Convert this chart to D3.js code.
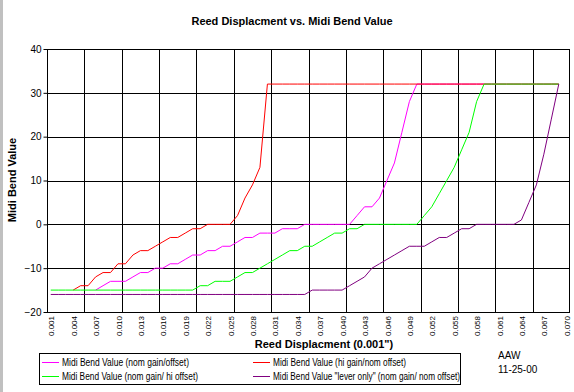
<!DOCTYPE html>
<html><head><meta charset="utf-8">
<script src="https://cdn.jsdelivr.net/npm/d3@7"></script>
<style>
body{margin:0;background:#fff}
svg{display:block}
text{font-family:"Liberation Sans",Arial,sans-serif;fill:#000}
</style>
</head><body>
<svg id="chart" width="574" height="392"></svg>
<script>
const categories = ["0.001","0.002","0.003","0.004","0.005","0.006","0.007","0.008","0.009","0.010",
"0.011","0.012","0.013","0.014","0.015","0.016","0.017","0.018","0.019","0.020",
"0.021","0.022","0.023","0.024","0.025","0.026","0.027","0.028","0.029","0.030",
"0.031","0.032","0.033","0.034","0.035","0.036","0.037","0.038","0.039","0.040",
"0.041","0.042","0.043","0.044","0.045","0.046","0.047","0.048","0.049","0.050",
"0.051","0.052","0.053","0.054","0.055","0.056","0.057","0.058","0.059","0.060",
"0.061","0.062","0.063","0.064","0.065","0.066","0.067","0.068","0.069","0.070"];
const xTickLabels = ["0.001","0.004","0.007","0.010","0.013","0.016","0.019","0.022","0.025","0.028","0.031","0.034","0.037","0.040","0.043","0.046","0.049","0.052","0.055","0.058","0.061","0.064","0.067","0.070"];
const yTickValues = [-20,-10,0,10,20,30,40];
const seriesNames = ["Midi Bend Value (nom gain/offset)","Midi Bend Value (hi gain/nom offset)","Midi Bend Value (nom gain/ hi offset)","Midi Bend Value \"lever only\" (nom gain/ nom offset)"];
const seriesColors = ["#ff00ff","#ff0000","#00ff00","#800080"];

const nomGainOffset = [null,null,null,null,null,null,-15,-14,-13,-13,
-13,-12,-11,-11,-10,-10,-9,-9,-8,-7,
-7,-6,-6,-5,-5,-4,-3,-3,-2,-2,
-2,-1,-1,-1,0,0,0,0,0,0,
0,2,4,4,6,10,14,21,28,32,
32,32,32,32,32,32,32,32,32,32,
32,32,32,32,32,32,32,32,32,null];
const hiGainNomOffset = [null,null,null,-15,-14,-14,-12,-11,-11,-9,
-9,-7,-6,-6,-5,-4,-3,-3,-2,-1,
-1,0,0,0,0,2,6,9,13,32,
32,32,32,32,32,32,32,32,32,32,
32,32,32,32,32,32,32,32,32,32,
32,32,32,32,32,32,32,32,32,32,
32,32,32,32,32,32,32,32,32,null];
const nomGainHiOffset = [-15,-15,-15,-15,-15,-15,-15,-15,-15,-15,
-15,-15,-15,-15,-15,-15,-15,-15,-15,-15,
-14,-14,-13,-13,-13,-12,-11,-11,-10,-9,
-8,-7,-6,-6,-5,-5,-4,-3,-2,-2,
-1,-1,0,0,0,0,0,0,0,0,
2,4,7,10,13,17,21,28,32,32,
32,32,32,32,32,32,32,32,32,null];
const leverOnly = [-16,-16,-16,-16,-16,-16,-16,-16,-16,-16,
-16,-16,-16,-16,-16,-16,-16,-16,-16,-16,
-16,-16,-16,-16,-16,-16,-16,-16,-16,-16,
-16,-16,-16,-16,-16,-15,-15,-15,-15,-15,
-14,-13,-12,-10,-9,-8,-7,-6,-5,-5,
-5,-4,-3,-3,-2,-1,-1,0,0,0,
0,0,0,1,5,9,16,24,32,null];
const seriesData = [nomGainOffset, hiGainNomOffset, nomGainHiOffset, leverOnly];

const svg = d3.select("#chart");
const L = 47, R = 570, T = 49, B = 312;

svg.append("rect").attr("width",574).attr("height",392).attr("fill","#fff");
svg.append("rect").attr("x",0).attr("y",0).attr("width",3).attr("height",392).attr("fill","#c0c0c0");

const x = d3.scaleBand().domain(categories).range([L,R]).paddingInner(0).paddingOuter(0);
const y = d3.scaleLinear().domain([-20,40]).range([B,T]);
const cx = c => x(c) + x.bandwidth()/2;

svg.append("g").selectAll("line").data(yTickValues).join("line")
  .attr("x1",L).attr("x2",R)
  .attr("y1",d=>Math.round(y(d))+0.5).attr("y2",d=>Math.round(y(d))+0.5)
  .attr("stroke","#000").attr("stroke-width",1);
const vIdx = d3.range(5,70,5);
svg.append("g").selectAll("line").data(vIdx).join("line")
  .attr("x1",i=>Math.round(x(categories[i]))+0.5).attr("x2",i=>Math.round(x(categories[i]))+0.5)
  .attr("y1",T).attr("y2",B)
  .attr("stroke","#000").attr("stroke-width",1);
svg.append("rect").attr("x",L+0.5).attr("y",Math.round(T)+0.5).attr("width",R-L-1).attr("height",Math.round(B)-Math.round(T))
  .attr("fill","none").attr("stroke","#000").attr("stroke-width",1);

const yAxis = d3.axisLeft(y).tickValues(yTickValues).tickSize(4).tickPadding(2);
const ya = svg.append("g").attr("transform",`translate(${L+0.5},0)`).call(yAxis);
ya.select(".domain").remove();
ya.selectAll("text").attr("font-size","10px").attr("font-family","Liberation Sans, Arial, sans-serif");
ya.selectAll("line").attr("stroke","#000");

const xAxis = d3.axisBottom(x).tickValues(xTickLabels).tickSize(0).tickPadding(0);
const xa = svg.append("g").attr("transform",`translate(0,${B})`).call(xAxis);
xa.select(".domain").remove();
xa.selectAll("text")
  .attr("font-size","8px").attr("font-family","Liberation Sans, Arial, sans-serif")
  .attr("transform","rotate(-90)").attr("text-anchor","end")
  .attr("x",-4).attr("y",1).attr("dy","0.32em");

const line = d3.line().defined(d=>d.v!=null).x(d=>cx(d.c)).y(d=>y(d.v));
seriesData.forEach((arr,k)=>{
  const pts = categories.map((c,i)=>({c, v: arr[i]}));
  svg.append("path").datum(pts).attr("d",line)
    .attr("fill","none").attr("stroke",seriesColors[k]).attr("stroke-width",1);
});

svg.append("text").attr("x",292).attr("y",25).attr("text-anchor","middle")
  .attr("font-size","11px").attr("font-weight","bold").text("Reed Displacment vs. Midi Bend Value");
svg.append("text").attr("transform","translate(16,180) rotate(-90)").attr("text-anchor","middle")
  .attr("font-size","11px").attr("font-weight","bold").text("Midi Bend Value");
svg.append("text").attr("x",324).attr("y",348).attr("text-anchor","middle")
  .attr("font-size","11px").attr("font-weight","bold").text("Reed Displacment (0.001\")");

const lg = svg.append("g");
lg.append("rect").attr("x",39.5).attr("y",353.5).attr("width",421).attr("height",31)
  .attr("fill","#fff").attr("stroke","#000");
const legPos = [[42,362],[253,362],[42,376],[253,376]];
const legW = [127,133,136,187];
seriesNames.forEach((n,k)=>{
  const [lx,ly] = legPos[k];
  lg.append("rect").attr("x",lx).attr("y",ly).attr("width",17).attr("height",1)
    .attr("fill",seriesColors[k]);
  lg.append("text").attr("x",lx+20).attr("y",ly+0.5).attr("dy","0.35em")
    .attr("font-size","10px").attr("textLength",legW[k]).attr("lengthAdjust","spacingAndGlyphs").text(n);
});
svg.append("text").attr("x",498).attr("y",359).attr("font-size","10px").text("AAW");
svg.append("text").attr("x",498).attr("y",373).attr("font-size","10px").text("11-25-00");
</script>
</body></html>
